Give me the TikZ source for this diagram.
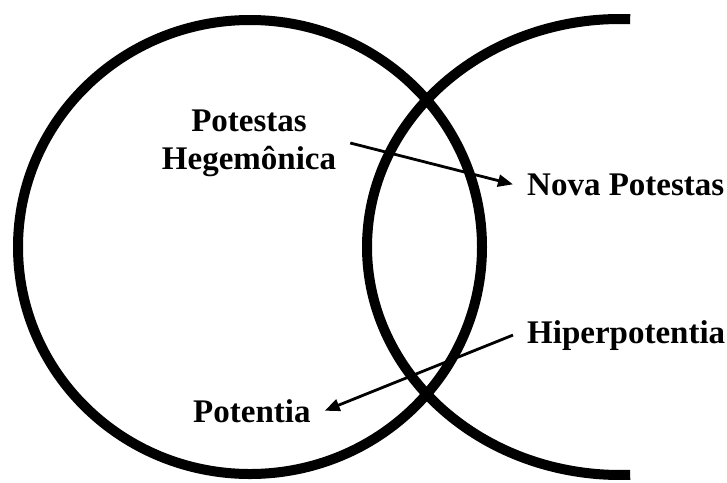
\documentclass[tikz,border=0pt]{standalone}
\usepackage{fontspec}
\setmainfont{Liberation Serif}
\usepackage{tikz}
\usetikzlibrary{arrows.meta}

\begin{document}
\begin{tikzpicture}[x=1pt,y=-1pt,
    lbl/.style={font=\fontsize{33}{38}\selectfont\bfseries,inner xsep=14pt,inner ysep=0pt},
    ring/.style={line width=10pt},
    link/.style={line width=2.8pt,-{Triangle[length=15pt,width=12pt]}}]
      \useasboundingbox (0,0) rectangle (727,482);
      \draw[ring] (250,247) ellipse[x radius=232,y radius=227];
      \draw[ring] (620,247) ++(-87.7:253 and 228)
        arc[start angle=-87.7,end angle=-272.3,x radius=253,y radius=228];
      \node[lbl,align=center] (hegem) at (249,143) {Potestas\\Hegemônica};
      \node[lbl,anchor=base west] (nova) at (513,195) {Nova Potestas};
      \node[lbl,anchor=base west] (hiper) at (513,343) {Hiperpotentia};
      \node[lbl,anchor=base west] (potentia) at (179,422) {Potentia};
      \draw[link] (hegem.east) -- (nova.west);
      \draw[link] (hiper.west) -- (potentia.east);
    \end{tikzpicture}
\end{document}
